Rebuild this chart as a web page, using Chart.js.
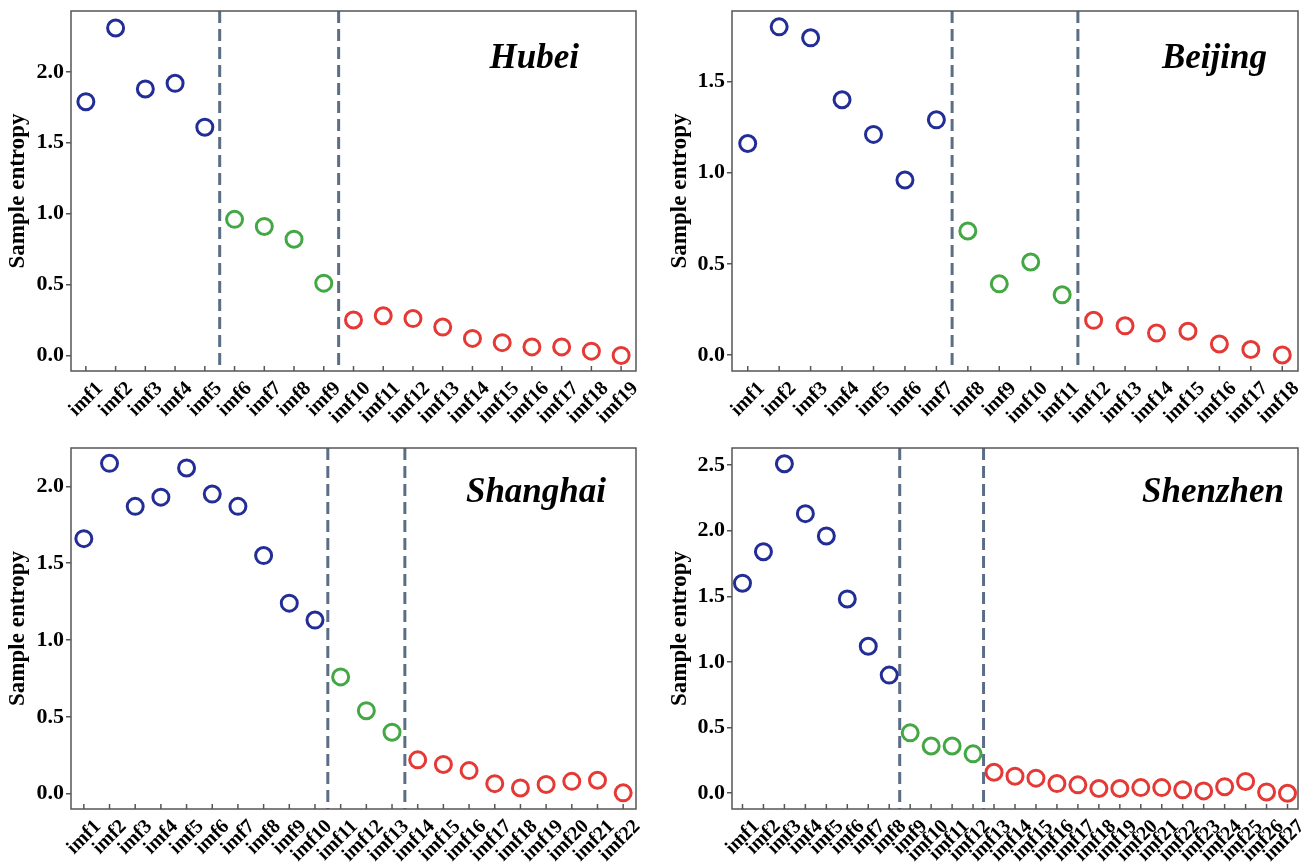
<!DOCTYPE html>
<html>
<head>
<meta charset="utf-8">
<script src="https://cdn.jsdelivr.net/npm/chart.js@4.4.1/dist/chart.umd.min.js"></script>
<style>
    html, body { margin: 0; padding: 0; background: #fff; }
    body { width: 1314px; height: 866px; position: relative; overflow: hidden; }
    .panel { position: absolute; }
</style>
</head>
<body>
<div class="panel" style="left:0px;top:0px;width:655px;height:435px"><canvas id="hubeiChart"></canvas></div>
<div class="panel" style="left:655px;top:0px;width:659px;height:435px"><canvas id="beijingChart"></canvas></div>
<div class="panel" style="left:0px;top:435px;width:655px;height:431px"><canvas id="shanghaiChart"></canvas></div>
<div class="panel" style="left:655px;top:435px;width:659px;height:431px"><canvas id="shenzhenChart"></canvas></div>

<script>
// ---- data ----
const hubeiLabels = ["imf1","imf2","imf3","imf4","imf5","imf6","imf7","imf8","imf9","imf10",
    "imf11","imf12","imf13","imf14","imf15","imf16","imf17","imf18","imf19"];
const hubeiValues = [1.79, 2.31, 1.88, 1.92, 1.61, 0.96, 0.91, 0.82, 0.51, 0.25,
    0.28, 0.26, 0.20, 0.12, 0.09, 0.06, 0.06, 0.03, 0.00];
const hubeiSplits = [4.5, 8.5];

const beijingLabels = ["imf1","imf2","imf3","imf4","imf5","imf6","imf7","imf8","imf9","imf10",
    "imf11","imf12","imf13","imf14","imf15","imf16","imf17","imf18"];
const beijingValues = [1.16, 1.80, 1.74, 1.40, 1.21, 0.96, 1.29, 0.68, 0.39, 0.51,
    0.33, 0.19, 0.16, 0.12, 0.13, 0.06, 0.03, 0.00];
const beijingSplits = [6.5, 10.5];

const shanghaiLabels = ["imf1","imf2","imf3","imf4","imf5","imf6","imf7","imf8","imf9","imf10",
    "imf11","imf12","imf13","imf14","imf15","imf16","imf17","imf18","imf19","imf20","imf21","imf22"];
const shanghaiValues = [1.66, 2.15, 1.87, 1.93, 2.12, 1.95, 1.87, 1.55, 1.24, 1.13,
    0.76, 0.54, 0.40, 0.22, 0.19, 0.15, 0.065, 0.037, 0.06, 0.08, 0.087, 0.005];
const shanghaiSplits = [9.5, 12.5];

const shenzhenLabels = ["imf1","imf2","imf3","imf4","imf5","imf6","imf7","imf8","imf9","imf10",
    "imf11","imf12","imf13","imf14","imf15","imf16","imf17","imf18","imf19","imf20",
    "imf21","imf22","imf23","imf24","imf25","imf26","imf27"];
const shenzhenValues = [1.60, 1.84, 2.51, 2.13, 1.96, 1.48, 1.12, 0.90, 0.46, 0.36,
    0.36, 0.30, 0.16, 0.13, 0.115, 0.074, 0.064, 0.036, 0.036, 0.043,
    0.043, 0.026, 0.018, 0.05, 0.09, 0.01, 0.00];
const shenzhenSplits = [7.5, 11.5];

const groupColors = ["#232d96", "#43a843", "#e53935"];
const serif = "'Liberation Serif', 'Times New Roman', serif";

// draws frame, dashed separators, inward x ticks and the city name
const decorPlugin = {
    id: "decor",
    beforeDatasetsDraw(chart) {
        const { ctx, chartArea, scales } = chart;
        const o = chart.options.plugins.decor;
        ctx.save();
        ctx.strokeStyle = "#5b6e85";
        ctx.lineWidth = 3;
        ctx.setLineDash([12, 6]);
        o.splits.forEach(s => {
            const x = scales.x.getPixelForValue(s);
            ctx.beginPath();
            ctx.moveTo(x, chartArea.top);
            ctx.lineTo(x, chartArea.bottom);
            ctx.stroke();
        });
        ctx.restore();
    },
    afterDraw(chart) {
        const { ctx, chartArea, scales } = chart;
        const o = chart.options.plugins.decor;
        ctx.save();
        ctx.strokeStyle = "#555";
        ctx.lineWidth = 1.5;
        // inward ticks on x axis
        scales.x.ticks.forEach((t, i) => {
            const x = scales.x.getPixelForTick(i);
            ctx.beginPath();
            ctx.moveTo(x, chartArea.bottom);
            ctx.lineTo(x, chartArea.bottom - 5);
            ctx.stroke();
        });
        ctx.strokeRect(chartArea.left, chartArea.top,
            chartArea.right - chartArea.left, chartArea.bottom - chartArea.top);
        // city name
        ctx.fillStyle = "#000";
        ctx.font = "italic bold 35px " + serif;
        ctx.textAlign = "right";
        ctx.textBaseline = "alphabetic";
        ctx.fillText(o.name, chartArea.right - o.nameRight, chartArea.top + o.nameDown);
        ctx.restore();
    }
};

function makeChart(id, labels, values, splits, opts) {
    const colors = values.map((v, i) =>
        i < splits[0] ? groupColors[0] : (i < splits[1] ? groupColors[1] : groupColors[2]));

    return new Chart(document.getElementById(id), {
        type: "line",
        data: {
            labels: labels,
            datasets: [{
                data: values,
                showLine: false,
                pointRadius: 8,
                pointHoverRadius: 8,
                pointBorderWidth: 3,
                pointBackgroundColor: "rgba(0,0,0,0)",
                pointBorderColor: colors
            }]
        },
        options: {
            responsive: true,
            maintainAspectRatio: false,
            animation: false,
            events: [],
            layout: { padding: { top: opts.top, right: opts.right, left: 0, bottom: 0 } },
            plugins: {
                legend: { display: false },
                tooltip: { enabled: false },
                decor: { splits: splits, name: opts.name, nameRight: opts.nameRight, nameDown: opts.nameDown }
            },
            scales: {
                x: {
                    type: "category",
                    offset: true,
                    grid: { display: false, drawTicks: false },
                    border: { display: false },
                    ticks: {
                        autoSkip: false,
                        maxRotation: 45,
                        minRotation: 45,
                        padding: 6,
                        labelOffset: 14,
                        color: "#000",
                        font: { family: serif, size: 20, weight: "bold" }
                    },
                    afterFit(scale) {
                        scale.height = opts.xHeight;
                        scale.paddingLeft = 0;
                        scale.paddingRight = 0;
                    }
                },
                y: {
                    min: opts.min,
                    max: opts.max,
                    grid: { drawOnChartArea: false, drawTicks: true, tickLength: 5, color: "#555", lineWidth: 1.5 },
                    border: { display: false },
                    ticks: {
                        stepSize: 0.5,
                        includeBounds: false,
                        padding: 2,
                        color: "#000",
                        font: { family: serif, size: 22, weight: "bold" },
                        callback: v => v.toFixed(1)
                    },
                    title: {
                        display: true,
                        text: "Sample entropy",
                        color: "#000",
                        padding: { top: opts.titlePad, bottom: 0 },
                        font: { family: serif, size: 23, weight: "bold" }
                    },
                    afterFit(scale) {
                        scale.width = opts.yWidth;
                        scale.paddingTop = 0;
                        scale.paddingBottom = 0;
                    }
                }
            }
        },
        plugins: [decorPlugin]
    });
}

makeChart("hubeiChart", hubeiLabels, hubeiValues, hubeiSplits, {
    name: "Hubei", nameRight: 57, nameDown: 57,
    min: -0.11, max: 2.43, top: 10, right: 19, xHeight: 64, yWidth: 71, titlePad: 4
});
makeChart("beijingChart", beijingLabels, beijingValues, beijingSplits, {
    name: "Beijing", nameRight: 31, nameDown: 57,
    min: -0.088, max: 1.887, top: 10, right: 16, xHeight: 64, yWidth: 77, titlePad: 11
});
makeChart("shanghaiChart", shanghaiLabels, shanghaiValues, shanghaiSplits, {
    name: "Shanghai", nameRight: 30, nameDown: 54,
    min: -0.10, max: 2.25, top: 13, right: 19, xHeight: 57, yWidth: 71, titlePad: 4
});
makeChart("shenzhenChart", shenzhenLabels, shenzhenValues, shenzhenSplits, {
    name: "Shenzhen", nameRight: 14, nameDown: 54,
    min: -0.12, max: 2.63, top: 13, right: 16, xHeight: 57, yWidth: 77, titlePad: 11
});
</script>
</body>
</html>
